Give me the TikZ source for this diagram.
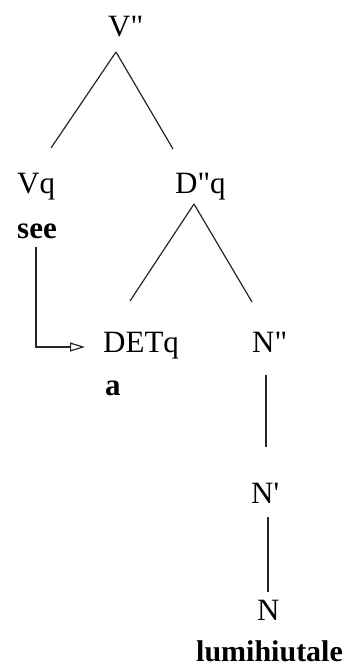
\documentclass[tikz,border=0pt]{standalone}
\usepackage{fontspec}
\setmainfont{Liberation Serif}[Ligatures=TeXOff]
\usetikzlibrary{arrows.meta,calc}
\begin{document}
\begin{tikzpicture}[x=1pt,y=-1pt,
  lbl/.style={anchor=base west,inner sep=0pt,font=\fontsize{31}{34}\selectfont},
  wrd/.style={lbl,font=\fontsize{31}{34}\selectfont\bfseries},
  edge/.style={line width=1.2pt,black!85}]
\useasboundingbox (0,0) rectangle (358,666);
\node[lbl] (vpp) at (108,37) {V"};
\node[lbl] (vq) at (17,193) {Vq};
\node[lbl] (dpq) at (175,193) {D"q};
\node[wrd] (see) at (17,238) {see};
\node[lbl] (detq) at (103,352) {DETq};
\node[lbl] (npp) at (252,352) {N"};
\node[wrd] (a) at (105,395) {a};
\node[lbl] (np) at (251,503) {N'};
\node[lbl] (n) at (257,620) {N};
\node[wrd,font=\fontsize{30}{33}\selectfont\bfseries] (lum) at (196,661) {lumihiutale};
% connector end points
\coordinate (vtop) at ($(vpp.base west)+(8,15)$);
\coordinate (vqtop) at ($(vq.base west)+(34,-45)$);
\coordinate (dptop) at ($(dpq.base west)+(-2,-44)$);
\coordinate (dpbot) at ($(dpq.base west)+(19,11)$);
\coordinate (dettop) at ($(detq.base west)+(27,-51)$);
\coordinate (npptop) at ($(npp.base west)+(0,-50)$);
\coordinate (nppbot) at ($(npp.base west)+(14,23)$);
\coordinate (nptop) at ($(np.base west)+(15,-56)$);
\coordinate (npbot) at ($(np.base west)+(17,14)$);
\coordinate (ntop) at ($(n.base west)+(11,-28)$);
\coordinate (seebot) at ($(see.base west)+(19,9)$);
\coordinate (corner) at ($(see.base west)+(19,109)$);
\draw[edge] (vtop) -- (vqtop);
\draw[edge] (vtop) -- (dptop);
\draw[edge] (dpbot) -- (dettop);
\draw[edge] (dpbot) -- (npptop);
\draw[edge] (nppbot) -- (nptop);
\draw[edge] (npbot) -- (ntop);
\draw[edge,-{Triangle[open,length=15pt,width=9pt]}] (seebot) -- (corner) -- ($(detq.west |- corner)+(-18,0)$);
\end{tikzpicture}
\end{document}
